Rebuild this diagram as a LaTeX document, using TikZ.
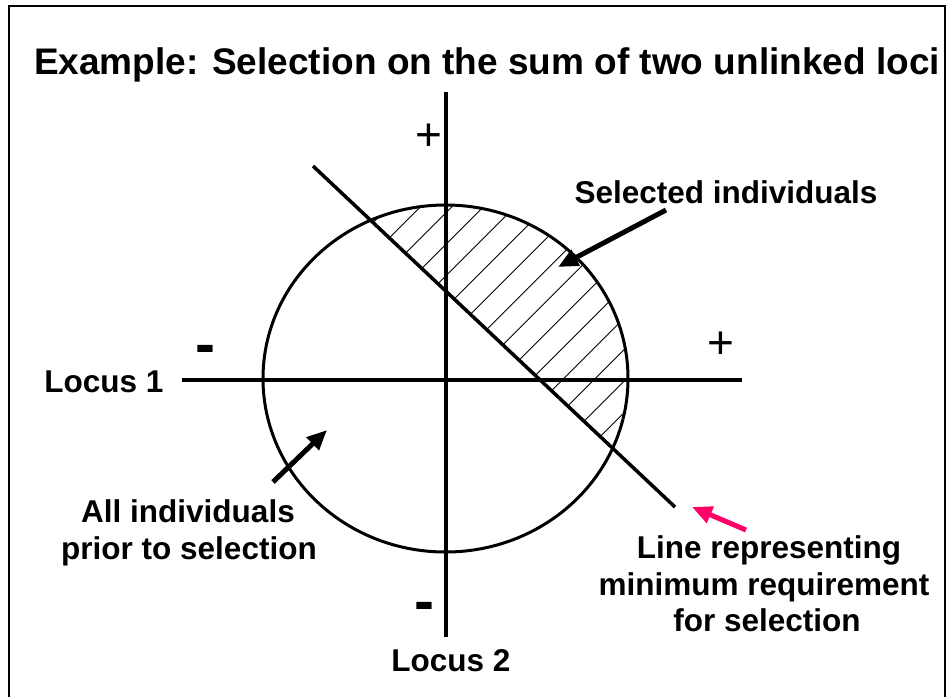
\documentclass[tikz,border=0pt]{standalone}
\usepackage{fontspec}
\setmainfont{Liberation Sans}
\usetikzlibrary{arrows.meta,shapes.geometric}
\definecolor{pinkarrow}{HTML}{FF0066}
\tikzset{
  axisline/.style={line width=3.5pt},
  hatchline/.style={line width=0.9pt},
  bigarrow/.style={line width=5pt,-{Triangle[length=20pt,width=17pt]}},
  lbl/.style={font=\fontsize{31.5}{37}\selectfont\bfseries,anchor=base,inner sep=0pt},
  ttl/.style={font=\fontsize{37}{40}\selectfont\bfseries,anchor=base,inner sep=0pt},
  plussign/.style={font=\fontsize{46}{46}\selectfont,inner sep=0pt},
  minussign/.style={font=\fontsize{60}{60}\selectfont\bfseries,inner sep=0pt}
}
\begin{document}
\begin{tikzpicture}[x=1pt,y=-1pt]
\useasboundingbox (0,0) rectangle (947,697);
% frame
\draw[line width=1.5pt] (9,697) -- (9,6) -- (945,6) -- (945,697);
% title
\node[ttl] (title) at (487,74) {Example: Selection on the sum of two unlinked loci};
% hatching
\begin{scope}
  \clip (445.5,378.5) ellipse [x radius=182.5, y radius=173.5];
  \clip (313,166) -- (675,507) -- (720,507) -- (720,140) -- (313,140) -- cycle;
  \foreach \k in {-1,...,17} {
    \pgfmathsetmacro\c{595.8+31.5*\k}
    \draw[hatchline] (250,{\c-250}) -- (720,{\c-720});
  }
\end{scope}
% circle
\node[draw,line width=3pt,ellipse,minimum width=365pt,minimum height=347pt,inner sep=0pt] (pop) at (445.5,378.5) {};
% axes
\coordinate (hl) at (182,380);
\coordinate (hr) at (742,380);
\coordinate (vt) at (446,92);
\coordinate (vb) at (446,637);
\draw[axisline] (hl) -- (hr);
\draw[axisline] (vt) -- (vb);
% diagonal
\coordinate (d1) at (313,166);
\coordinate (d2) at (675,507);
\draw[axisline] (d1) -- (d2);
% signs
\node[plussign] (ptop) at (429,137) {+};
\node[plussign] (pright) at (721,345) {+};
\node[minussign] (mleft) at (205,355) {-};
\node[minussign] (mbot) at (424,612) {-};
% labels
\node[lbl] (sel) at (726,203) {Selected individuals};
\node[lbl] (loc1) at (104,392) {Locus 1};
\node[lbl] (loc2) at (451,671) {Locus 2};
\node[lbl] (all1) at (188,522) {All individuals};
\node[lbl] (all2) at (189,559) {prior to selection};
\node[lbl] (ln1) at (769,558) {Line representing};
\node[lbl] (ln2) at (764,595) {minimum requirement};
\node[lbl] (ln3) at (767,631) {for selection};
% arrows
\coordinate (a1s) at (666,210);
\coordinate (a1e) at (558,267);
\draw[bigarrow] (a1s) -- (a1e);
\coordinate (a2s) at (273,482);
\coordinate (a2e) at (327,430);
\draw[bigarrow] (a2s) -- (a2e);
\coordinate (a3s) at (746,530);
\coordinate (a3e) at (692,507);
\draw[bigarrow,pinkarrow] (a3s) -- (a3e);
\end{tikzpicture}
\end{document}
